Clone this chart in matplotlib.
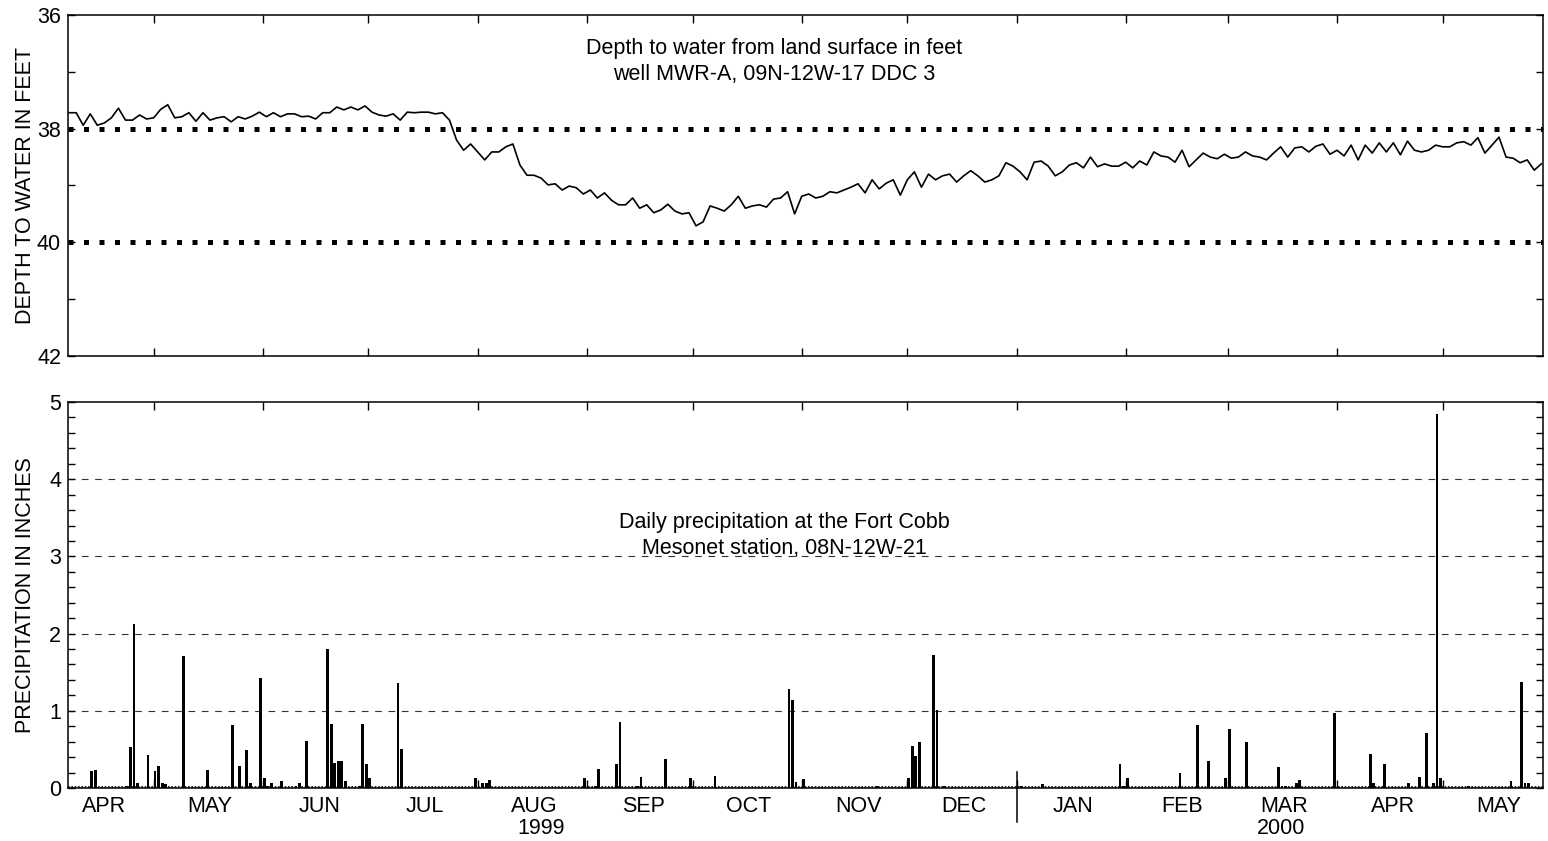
import matplotlib
matplotlib.use('Agg')
import matplotlib.pyplot as plt
import matplotlib.dates as mdates
import matplotlib.transforms as mtransforms
from matplotlib.ticker import FixedLocator, FixedFormatter, MultipleLocator
import pandas as pd

plt.rcParams['font.family'] = ['Liberation Sans', 'DejaVu Sans']
FS = 15.5

# depth to water (ft), read every second day starting 7 April 1999
level_start = '1999-04-07'
level_ft = [
    37.72, 37.72, 37.94, 37.74, 37.94, 37.90, 37.81, 37.64, 37.85, 37.85,
    37.76, 37.83, 37.81, 37.66, 37.58, 37.81, 37.79, 37.72, 37.87, 37.72,
    37.85, 37.81, 37.79, 37.88, 37.79, 37.83, 37.78, 37.71, 37.79, 37.72,
    37.79, 37.74, 37.74, 37.79, 37.78, 37.83, 37.72, 37.72, 37.62, 37.67,
    37.62, 37.67, 37.60, 37.71, 37.76, 37.78, 37.74, 37.85, 37.71, 37.72,
    37.71, 37.71, 37.74, 37.72, 37.85, 38.20, 38.38, 38.27, 38.41, 38.55,
    38.41, 38.41, 38.32, 38.27, 38.64, 38.82, 38.82, 38.87, 38.99, 38.97,
    39.08, 39.01, 39.04, 39.15, 39.08, 39.22, 39.13, 39.26, 39.34, 39.34,
    39.22, 39.40, 39.34, 39.48, 39.43, 39.33, 39.45, 39.50, 39.48, 39.71,
    39.64, 39.36, 39.40, 39.45, 39.34, 39.19, 39.40, 39.36, 39.34, 39.38,
    39.24, 39.22, 39.11, 39.50, 39.19, 39.15, 39.22, 39.19, 39.11, 39.13,
    39.08, 39.03, 38.97, 39.13, 38.90, 39.06, 38.96, 38.90, 39.17, 38.90,
    38.76, 39.03, 38.80, 38.90, 38.83, 38.80, 38.94, 38.83, 38.74, 38.83,
    38.94, 38.90, 38.83, 38.60, 38.66, 38.76, 38.90, 38.59, 38.57, 38.66,
    38.83, 38.76, 38.64, 38.60, 38.69, 38.50, 38.67, 38.62, 38.66, 38.66,
    38.59, 38.69, 38.57, 38.64, 38.41, 38.48, 38.50, 38.59, 38.38, 38.67,
    38.55, 38.43, 38.50, 38.53, 38.45, 38.52, 38.50, 38.41, 38.48, 38.50,
    38.55, 38.43, 38.32, 38.50, 38.34, 38.32, 38.41, 38.31, 38.27, 38.45,
    38.38, 38.48, 38.29, 38.55, 38.29, 38.43, 38.25, 38.41, 38.25, 38.46,
    38.22, 38.38, 38.41, 38.38, 38.29, 38.32, 38.32, 38.25, 38.23, 38.29,
    38.16, 38.43, 38.29, 38.15, 38.50, 38.52, 38.60, 38.55, 38.73, 38.62,
]

# daily precipitation (in), days with rain only
rain_dates = [
    '1999-04-13', '1999-04-14', '1999-04-23', '1999-04-24', '1999-04-25', '1999-04-26', '1999-04-29',
    '1999-05-01', '1999-05-02', '1999-05-03', '1999-05-04', '1999-05-09', '1999-05-16', '1999-05-23',
    '1999-05-25', '1999-05-27', '1999-05-28', '1999-05-31',
    '1999-06-01', '1999-06-02', '1999-06-03', '1999-06-06', '1999-06-10', '1999-06-11', '1999-06-13',
    '1999-06-19', '1999-06-20', '1999-06-21', '1999-06-22', '1999-06-23', '1999-06-24', '1999-06-28',
    '1999-06-29', '1999-06-30',
    '1999-07-01', '1999-07-09', '1999-07-10', '1999-07-31',
    '1999-08-02', '1999-08-03', '1999-08-04', '1999-08-31',
    '1999-09-03', '1999-09-04', '1999-09-09', '1999-09-10', '1999-09-15', '1999-09-16', '1999-09-23', '1999-09-30',
    '1999-10-07', '1999-10-28', '1999-10-29', '1999-10-30',
    '1999-11-01', '1999-11-22',
    '1999-12-01', '1999-12-02', '1999-12-03', '1999-12-04', '1999-12-08', '1999-12-09', '1999-12-11',
    '2000-01-02', '2000-01-08', '2000-01-30', '2000-01-31',
    '2000-02-01', '2000-02-16', '2000-02-21', '2000-02-24', '2000-02-29',
    '2000-03-01', '2000-03-06', '2000-03-15', '2000-03-16', '2000-03-17', '2000-03-20', '2000-03-21', '2000-03-31',
    '2000-04-10', '2000-04-11', '2000-04-14', '2000-04-21', '2000-04-24', '2000-04-26', '2000-04-28',
    '2000-04-29', '2000-04-30',
    '2000-05-08', '2000-05-20', '2000-05-23', '2000-05-24', '2000-05-25',
]
rain_in = [
    0.22, 0.23, 0.02, 0.53, 2.13, 0.06, 0.43,
    0.22, 0.28, 0.06, 0.05, 1.71, 0.23, 0.81, 0.28, 0.49, 0.06, 1.43,
    0.13, 0.02, 0.07, 0.09, 0.03, 0.07, 0.61, 1.80, 0.83, 0.33, 0.35, 0.35, 0.09, 0.02, 0.83, 0.31,
    0.13, 1.36, 0.50, 0.13,
    0.06, 0.06, 0.10, 0.13,
    0.03, 0.24, 0.31, 0.85, 0.02, 0.14, 0.37, 0.13,
    0.15, 1.28, 1.14, 0.08,
    0.12, 0.02,
    0.13, 0.54, 0.42, 0.59, 1.72, 1.01, 0.03,
    0.02, 0.05, 0.31, 0.03,
    0.13, 0.19, 0.81, 0.35, 0.13,
    0.77, 0.59, 0.27, 0.02, 0.02, 0.07, 0.10, 0.97,
    0.44, 0.06, 0.31, 0.06, 0.14, 0.71, 0.06, 4.85, 0.13,
    0.02, 0.09, 1.37, 0.07, 0.07,
]

month_names = ['APR', 'MAY', 'JUN', 'JUL', 'AUG', 'SEP', 'OCT', 'NOV', 'DEC',
               'JAN', 'FEB', 'MAR', 'APR', 'MAY']
years = ['1999', '2000']
year_pos = ['1999-08-19', '2000-03-16']


def month_ticks(ax, jan):
    ax.xaxis.set_major_locator(FixedLocator(mdates.date2num(month_starts)))
    ax.tick_params(axis='x', which='major', direction='in', length=6, width=1,
                   top=True, bottom=True, labelbottom=False)
    # longer tick at the turn of the year
    for t in ax.xaxis.get_major_ticks():
        if abs(t.get_loc() - jan) < 0.5:
            t.tick1line.set_markersize(9)
            t.tick2line.set_markersize(9)


def main():
    global month_starts
    level_dates = pd.date_range(level_start, periods=len(level_ft), freq='2D')
    rdates = pd.to_datetime(rain_dates)
    month_starts = pd.date_range('1999-05-01', '2000-05-01', freq='MS')
    mid_months = pd.date_range('1999-04-01', '2000-05-01', freq='MS') + pd.Timedelta(days=16)
    jan = mdates.date2num(pd.Timestamp('2000-01-01'))
    xlim = (pd.Timestamp('1999-04-06 16:00'), pd.Timestamp('2000-05-29 12:00'))

    fig = plt.figure(figsize=(15.48, 8.41), dpi=100)
    ax1 = fig.add_axes([0.0439, 0.5767, 0.9529, 0.4055])
    ax2 = fig.add_axes([0.0439, 0.0630, 0.9529, 0.4590])

    for ax in (ax1, ax2):
        for s in ax.spines.values():
            s.set_linewidth(1.1)
        ax.set_xlim(xlim)

    # ---- water level
    ax1.plot(level_dates, level_ft, color='black', lw=1.2)
    for lev in (38, 40):
        ax1.axhline(lev, color='black', lw=3.6, linestyle=(0, (1, 2.1)))
    ax1.set_ylim(42, 36)
    ax1.set_yticks([36, 37, 38, 39, 40, 41, 42])
    ax1.set_yticklabels(['36', '', '38', '', '40', '', '42'])
    ax1.tick_params(axis='y', direction='in', length=5, width=1, left=True, right=True,
                    labelsize=FS, pad=5)
    month_ticks(ax1, jan)
    ax1.set_ylabel('DEPTH TO WATER IN FEET', fontsize=FS)
    ax1.yaxis.set_label_coords(-0.022, 0.5)
    ax1.text(0.479, 0.864, 'Depth to water from land surface in feet\nwell MWR-A, 09N-12W-17 DDC 3',
             transform=ax1.transAxes, ha='center', va='center', fontsize=FS, linespacing=1.3)

    # ---- precipitation
    ax2.bar(rdates, rain_in, width=0.8, align='edge', color='black', linewidth=0)
    ax2.axhline(0.015, color='black', lw=1.2, linestyle=(0, (1, 1)))
    for g in (1, 2, 3, 4):
        ax2.axhline(g, color='#333333', lw=0.8, linestyle=(0, (6, 6)), zorder=0)
    ax2.set_ylim(0, 5)
    ax2.yaxis.set_major_locator(MultipleLocator(1))
    ax2.yaxis.set_minor_locator(MultipleLocator(0.2))
    ax2.tick_params(axis='y', which='both', direction='in', length=5, width=1,
                    left=True, right=True, labelsize=FS, pad=5)
    month_ticks(ax2, jan)
    ax2.xaxis.set_minor_locator(FixedLocator(mdates.date2num(mid_months)))
    ax2.xaxis.set_minor_formatter(FixedFormatter(month_names))
    ax2.tick_params(axis='x', which='minor', length=0, labelsize=FS, pad=6)
    ax2.set_ylabel('PRECIPITATION IN INCHES', fontsize=FS)
    ax2.yaxis.set_label_coords(-0.022, 0.5)
    ax2.text(0.486, 0.654, 'Daily precipitation at the Fort Cobb\nMesonet station, 08N-12W-21',
             transform=ax2.transAxes, ha='center', va='center', fontsize=FS, linespacing=1.3)

    trans = mtransforms.blended_transform_factory(ax2.transData, ax2.transAxes)
    ax2.plot([jan, jan], [0.041, -0.088], transform=trans, clip_on=False, color='black', lw=1.1)
    for y, p in zip(years, year_pos):
        ax2.text(pd.Timestamp(p), -0.104, y, transform=trans, ha='center', va='center', fontsize=FS)

    fig.savefig('out.png', dpi=100)


if __name__ == "__main__":
    main()
